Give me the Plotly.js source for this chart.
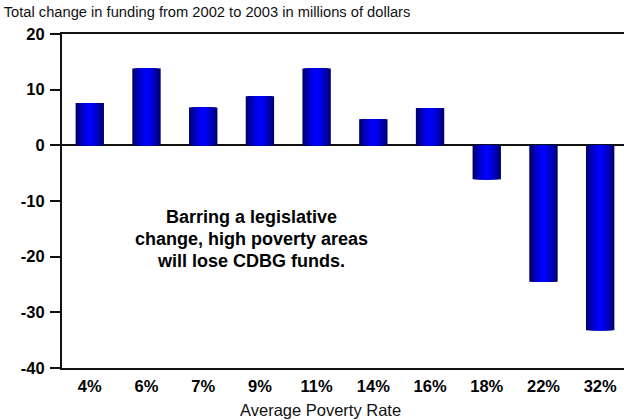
<!DOCTYPE html>
<html>
<head>
<meta charset="utf-8">
<script src="https://cdn.plot.ly/plotly-3.0.1.min.js"></script>
<style>html,body{margin:0;padding:0;background:#fff;}#chart{width:624px;height:420px;}</style>
</head>
<body>
<div id="chart"></div>
<script>
// Data
var categories = ['4%', '6%', '7%', '9%', '11%', '14%', '16%', '18%', '22%', '32%'];
var fundingChange = [7.6, 13.8, 6.8, 8.8, 13.8, 4.7, 6.7, -6.1, -24.5, -33.2];
var yTicks = [20, 10, 0, -10, -20, -30, -40];
var chartTitle = 'Total change in funding from 2002 to 2003 in millions of dollars';
var xTitle = 'Average Poverty Rate';
var noteLines = ['Barring a legislative', 'change, high poverty areas', 'will lose CDBG funds.'];

// Cylinder-like shading: layered bars of decreasing width
var FONT = 'Liberation Sans, Arial, sans-serif';
var layers = 9;
var traces = [];
for (var i = 0; i < layers; i++) {
  var t = i / (layers - 1);
  var w = 0.5 * (1 - t * 0.88);
  var b = Math.round(105 + (255 - 105) * Math.pow(t, 0.7));
  traces.push({
    type: 'bar',
    x: categories,
    y: fundingChange,
    width: w,
    marker: {color: 'rgb(0,0,' + b + ')', line: {width: 0}},
    hoverinfo: i === 0 ? 'x+y' : 'skip',
    showlegend: false
  });
}

// pixel helpers for paper placement of text (plot area 62..624 x 34..368)
function px(x) { return (x - 62) / 562; }
function py(y) { return (368 - y) / 334; }

var noteY = [217, 239, 261];
var annotations = noteLines.map(function (line, k) {
  return {
    xref: 'paper', yref: 'paper', x: px(251), y: py(noteY[k]),
    xanchor: 'center', yanchor: 'middle', showarrow: false,
    text: '<b>' + line + '</b>',
    font: {family: FONT, size: 18, color: '#000'}
  };
});
annotations.push({
  xref: 'paper', yref: 'paper', x: px(320), y: py(410),
  xanchor: 'center', yanchor: 'middle', showarrow: false,
  text: xTitle, font: {family: FONT, size: 16.5, color: '#111'}
});

var layout = {
  width: 624, height: 420,
  margin: {l: 62, r: 0, t: 34, b: 52},
  paper_bgcolor: '#fff', plot_bgcolor: '#fff',
  barmode: 'overlay',
  font: {family: FONT, color: '#000', size: 13},
  title: {text: chartTitle, x: 0.006, xanchor: 'left', y: 0.972, yanchor: 'middle',
          font: {family: FONT, size: 14.7, color: '#111'}},
  xaxis: {
    type: 'category',
    range: [-0.49, 9.42],
    showline: true, linecolor: '#111', linewidth: 2, mirror: true,
    ticks: '', showgrid: false, zeroline: false,
    tickfont: {family: FONT, size: 16.5, color: '#000', weight: 'bold'},
    ticklabelstandoff: 2
  },
  yaxis: {
    range: [-40, 20],
    tickvals: yTicks,
    ticktext: yTicks.map(String),
    showline: true, linecolor: '#111', linewidth: 2,
    ticks: 'outside', ticklen: 10, tickwidth: 2, tickcolor: '#111',
    showgrid: false,
    zeroline: true, zerolinecolor: '#111', zerolinewidth: 2,
    tickfont: {family: FONT, size: 16.5, color: '#000', weight: 'bold'},
    ticklabelstandoff: 2
  },
  annotations: annotations
};

Plotly.newPlot('chart', traces, layout, {displayModeBar: false, staticPlot: true});
</script>
</body>
</html>
